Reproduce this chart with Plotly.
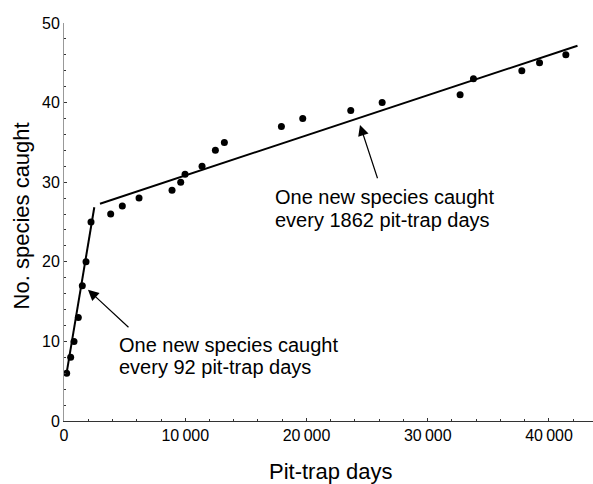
import plotly.graph_objects as go

# Data (pit-trap days, cumulative species caught)
trap_days = [220, 550, 825, 1180, 1510, 1815, 2228, 3850, 4810, 6190, 8910, 9625,
             9983, 11385, 12485, 13226, 17930, 19690, 23650, 26240, 32670, 33770,
             37760, 39220, 41390]
species = [6, 8, 10, 13, 17, 20, 25, 26, 27, 28, 29, 30, 31, 32, 34, 35, 37, 38,
           39, 40, 41, 43, 44, 45, 46]

# Fitted lines (endpoints)
fit1_x = [190, 2500]
fit1_y = [5.8, 26.85]
fit2_x = [2970, 42350]
fit2_y = [27.3, 47.15]

x_tickvals = [0, 10000, 20000, 30000, 40000]
x_ticktext = ["0", "10\u2009000", "20\u2009000", "30\u2009000", "40\u2009000"]
y_tickvals = [0, 10, 20, 30, 40, 50]

TEXT_FONT = "Liberation Sans, Arial, sans-serif"
TICK_FONT = "Liberation Sans Narrow, Arial Narrow, Liberation Sans, sans-serif"

fig = go.Figure()
fig.add_trace(go.Scatter(x=fit1_x, y=fit1_y, mode="lines",
                         line=dict(color="black", width=2), showlegend=False))
fig.add_trace(go.Scatter(x=fit2_x, y=fit2_y, mode="lines",
                         line=dict(color="black", width=2), showlegend=False))
fig.add_trace(go.Scatter(x=trap_days, y=species, mode="markers",
                         marker=dict(color="black", size=7), showlegend=False))

# arrows (tip, tail) in data coordinates
arrows = [((1979, 16.5), (5443, 11.6)), ((24412, 37.2), (25897, 30.3))]
for (tx, ty), (sx, sy) in arrows:
    fig.add_annotation(x=tx, y=ty, ax=sx, ay=sy, axref="x", ayref="y",
                       xref="x", yref="y", text="", showarrow=True,
                       arrowhead=2, arrowsize=1.8, arrowwidth=1.2, arrowcolor="black")

labels = [
    (4346, 9.59, "One new species caught"),
    (4346, 6.77, "every 92 pit-trap days"),
    (17212, 28.11, "One new species caught"),
    (17212, 25.28, "every 1862 pit-trap days"),
]
for lx, ly, t in labels:
    fig.add_annotation(x=lx, y=ly, xref="x", yref="y", text=t, showarrow=False,
                       xanchor="left", yanchor="middle",
                       font=dict(family=TEXT_FONT, size=20, color="black"))

# axis titles
fig.add_annotation(x=0, y=0.514, xref="paper", yref="paper", xshift=-43,
                   text="No. species caught", textangle=-90, showarrow=False,
                   xanchor="center", yanchor="middle",
                   font=dict(family=TEXT_FONT, size=22, color="black"))
fig.add_annotation(x=0.504, y=0, xref="paper", yref="paper", yshift=-50,
                   text="Pit-trap days", showarrow=False,
                   xanchor="center", yanchor="middle",
                   font=dict(family=TEXT_FONT, size=22, color="black"))

fig.update_layout(
    width=593, height=484,
    margin=dict(l=64, r=0, t=23, b=63),
    paper_bgcolor="white", plot_bgcolor="white",
    xaxis=dict(range=[0, 43630], tickvals=x_tickvals, ticktext=x_ticktext,
               showgrid=False, zeroline=False, showline=True, linecolor="#333",
               linewidth=1, ticks="inside", ticklen=3, tickcolor="#333",
               tickfont=dict(family=TICK_FONT, size=16, color="black"),
               minor=dict(dtick=2000, tick0=0, ticks="inside", ticklen=2,
                          tickcolor="#333", showgrid=False)),
    yaxis=dict(range=[0, 50], tickvals=y_tickvals,
               showgrid=False, zeroline=False, showline=True, linecolor="#999",
               linewidth=1, ticks="inside", ticklen=3, tickcolor="#333",
               tickfont=dict(family=TICK_FONT, size=16, color="black"),
               minor=dict(dtick=2, tick0=0, ticks="inside", ticklen=2,
                          tickcolor="#333", showgrid=False)),
)

fig.write_html("out.html",
               config={"displayModeBar": False},
               post_script="document.body.style.margin='0';"
                           "document.body.style.overflow='hidden';")
